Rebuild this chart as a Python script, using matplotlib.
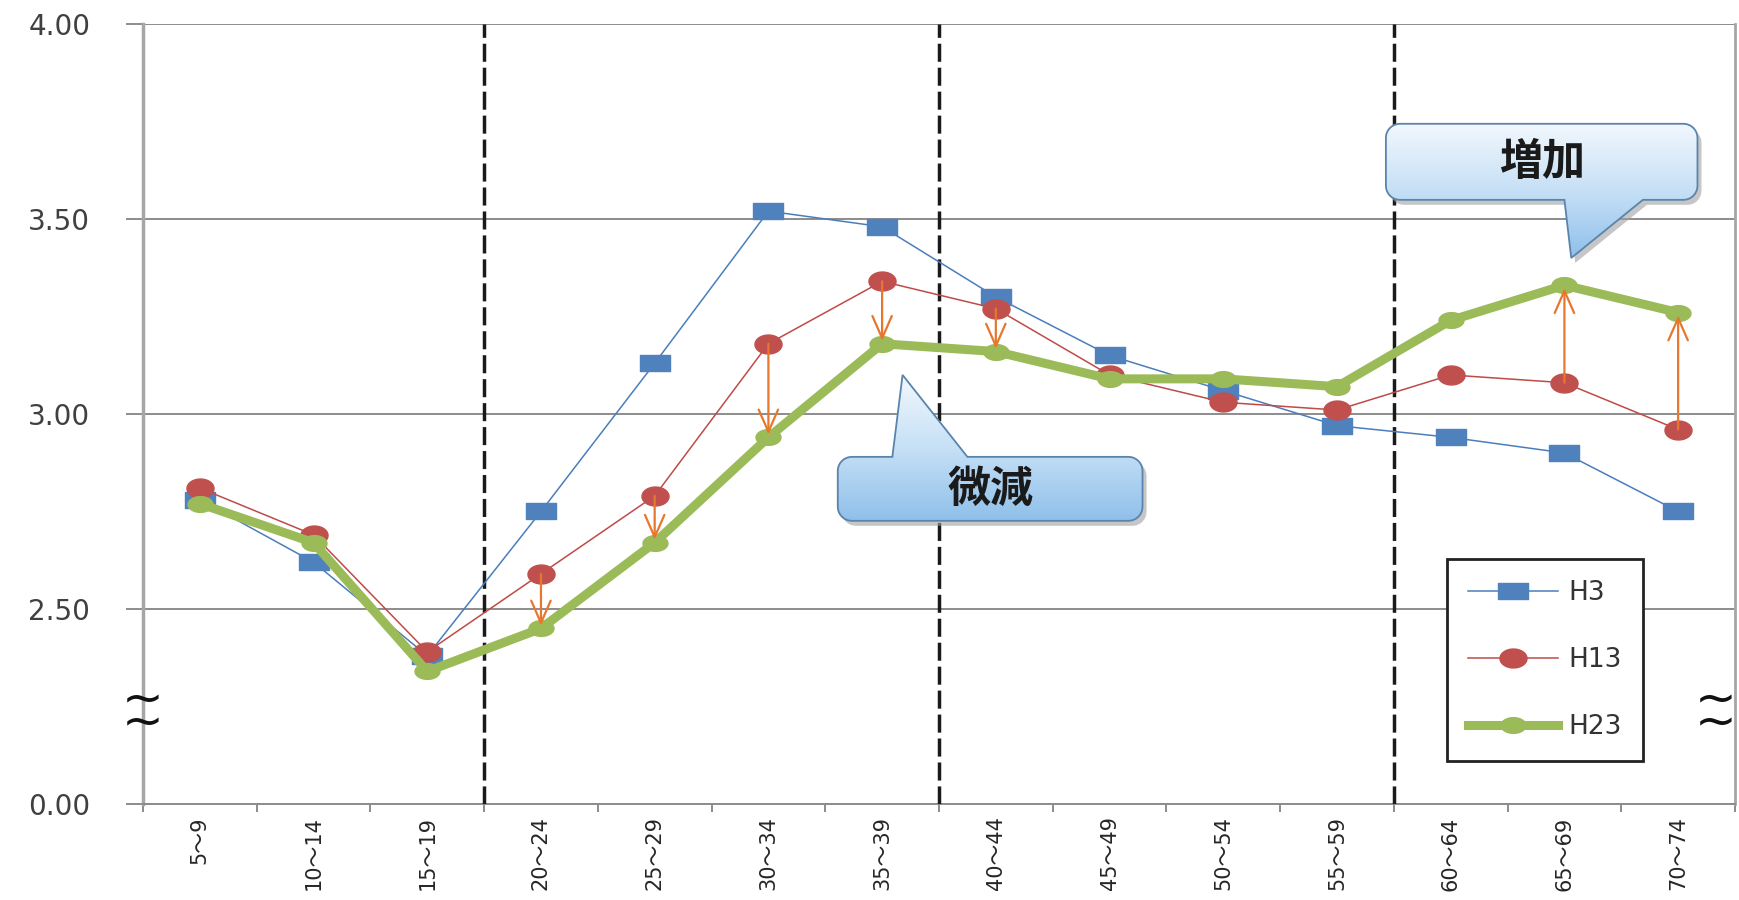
import numpy as np
import matplotlib
matplotlib.use('Agg')
import matplotlib.pyplot as plt
from matplotlib.path import Path
from matplotlib.patches import PathPatch
from matplotlib.colors import LinearSegmentedColormap

# age groups and average values (axis is broken: bottom tick "0.00" sits at 2.0)
ages = ['5～9', '10～14', '15～19', '20～24', '25～29', '30～34', '35～39',
        '40～44', '45～49', '50～54', '55～59', '60～64', '65～69', '70～74']
h3 = [2.78, 2.62, 2.38, 2.75, 3.13, 3.52, 3.48, 3.30, 3.15, 3.06, 2.97, 2.94, 2.90, 2.75]
h13 = [2.81, 2.69, 2.39, 2.59, 2.79, 3.18, 3.34, 3.27, 3.10, 3.03, 3.01, 3.10, 3.08, 2.96]
h23 = [2.77, 2.67, 2.34, 2.45, 2.67, 2.94, 3.18, 3.16, 3.09, 3.09, 3.07, 3.24, 3.33, 3.26]
series_names = ['H3', 'H13', 'H23']
ytick_vals = [2.0, 2.5, 3.0, 3.5, 4.0]
ytick_labels = ['0.00', '2.50', '3.00', '3.50', '4.00']
group_breaks = [2.5, 6.5, 10.5]
arrow_idx = [3, 4, 5, 6, 7, 12, 13]

JP = ['DejaVu Sans', 'Noto Sans CJK JP']

fig = plt.figure(figsize=(17.39, 9.0), dpi=100)
ax = fig.add_axes([0.0822, 0.1067, 0.9155, 0.8667])
x = np.arange(len(ages))
ax.set_xlim(-0.5, len(ages) - 0.5)
ax.set_ylim(2.0, 4.0)

# wide markers (the source picture is stretched sideways)
rect = Path([(-1, -0.55), (1, -0.55), (1, 0.55), (-1, 0.55), (-1, -0.55)], closed=True)
t = np.linspace(0, 2 * np.pi, 41)
ell_red = Path(np.column_stack([np.cos(t), 0.7 * np.sin(t)]), closed=True)
ell_grn = Path(np.column_stack([np.cos(t), 0.63 * np.sin(t)]), closed=True)

ax.plot(x, h3, color='#4a7ebb', lw=1.1, marker=rect, ms=22,
        mfc='#4f81bd', mec='#4f81bd', label=series_names[0], zorder=5)
ax.plot(x, h13, color='#be4b48', lw=1.1, marker=ell_red, ms=19.5,
        mfc='#c0504d', mec='#c0504d', label=series_names[1], zorder=6)
ax.plot(x, h23, color='#9bbb59', lw=6.5, marker=ell_grn, ms=18,
        mfc='#9bbb59', mec='#9bbb59', label=series_names[2], zorder=7)

for i in arrow_idx:
    ax.annotate('', xy=(x[i], h23[i]), xytext=(x[i], h13[i]),
                arrowprops=dict(arrowstyle='->,head_length=0.8,head_width=0.35',
                                color='#e8772e', lw=1.6, shrinkA=0, shrinkB=2,
                                mutation_scale=20), zorder=8)

for b in group_breaks:
    ax.axvline(b, color='#1a1a1a', lw=2.5, dashes=(5.2, 1.7), zorder=3)

# axes styling
ax.set_yticks(ytick_vals)
ax.set_yticklabels(ytick_labels, fontsize=20, color='#404040')
ax.yaxis.grid(True, color='#8c8c8c', lw=1.4)
ax.set_axisbelow(True)
ax.tick_params(axis='y', length=12, width=1.4, color='#8c8c8c', pad=26)
ax.set_xticks(x)
ax.set_xticklabels(ages, rotation=90, fontsize=15, color='#262626',
                   va='top', ha='center', family=JP)
ax.set_xticks(np.arange(-0.5, len(ages)), minor=True)
ax.tick_params(axis='x', which='major', length=0, pad=9)
ax.tick_params(axis='x', which='minor', length=6, width=1.4, color='#8c8c8c')
ax.spines['top'].set_visible(False)
ax.spines['left'].set_color('#a6a6a6')
ax.spines['left'].set_linewidth(2.5)
ax.spines['right'].set_color('#a6a6a6')
ax.spines['right'].set_linewidth(2.0)
ax.spines['bottom'].set_color('#8c8c8c')
ax.spines['bottom'].set_linewidth(1.4)

# axis break marks
for bx in [0.0, 0.988]:
    ax.text(bx, 0.118, '~\n~', transform=ax.transAxes, fontsize=36,
            ha='center', va='center', linespacing=0.33, color='#111111',
            clip_on=False, zorder=9)

leg = ax.legend(loc='upper left', bbox_to_anchor=(0.819, 0.314), borderaxespad=0,
                fontsize=19, handlelength=3.4, handletextpad=0.4,
                labelspacing=1.55, borderpad=0.8, fancybox=False,
                edgecolor='#222222', framealpha=1)
leg.get_frame().set_linewidth(2.0)
for txt in leg.get_texts():
    txt.set_color('#333333')


def callout(box, base, tip, side, label, r=14):
    T = ax.transData
    L, B = T.transform((box[0], box[2]))
    R, Tp = T.transform((box[1], box[3]))
    pa = T.transform((base[0], box[2]))[0]
    pb = T.transform((base[1], box[2]))[0]
    tx, ty = T.transform(tip)

    def arc(cx, cy, a0, a1):
        a = np.radians(np.linspace(a0, a1, 9))
        return list(zip(cx + r * np.cos(a), cy + r * np.sin(a)))

    v = [(L + r, Tp)]
    if side == 'top':
        v += [(pa, Tp), (tx, ty), (pb, Tp)]
    v += arc(R - r, Tp - r, 90, 0)
    v += arc(R - r, B + r, 0, -90)
    if side == 'bottom':
        v += [(pb, B), (tx, ty), (pa, B)]
    v += arc(L + r, B + r, 270, 180)
    v += arc(L + r, Tp - r, 180, 90)
    v = np.array(v)
    inv = T.inverted()
    shadow = PathPatch(Path(inv.transform(v + [4, -5]), closed=True),
                       facecolor='#a0a0a0', edgecolor='none', alpha=0.6, zorder=4.0)
    ax.add_patch(shadow)
    dv = inv.transform(v)
    edge = PathPatch(Path(dv, closed=True), facecolor='none',
                     edgecolor='#5a84ac', lw=1.3, zorder=4.3)
    ax.add_patch(edge)
    cmap = LinearSegmentedColormap.from_list('cb', ['#8fc0ea', '#c6e0f6', '#f2f8fd'])
    im = ax.imshow(np.linspace(0, 1, 256).reshape(-1, 1), cmap=cmap, origin='lower',
                   extent=(dv[:, 0].min(), dv[:, 0].max(), dv[:, 1].min(), dv[:, 1].max()),
                   aspect='auto', zorder=4.1)
    im.set_clip_path(edge)
    ax.text((box[0] + box[1]) / 2, (box[2] + box[3]) / 2, label,
            fontsize=31, fontweight='bold', family='Noto Sans CJK JP',
            color='#1a1a1a', ha='center', va='center', zorder=4.5)


callout((10.43, 13.17, 3.549, 3.744), (12.0, 12.69), (12.06, 3.40), 'bottom', '増加')
callout((5.61, 8.29, 2.726, 2.89), (6.09, 6.75), (6.18, 3.10), 'top', '微減')

ax.set_xlim(-0.5, len(ages) - 0.5)
ax.set_ylim(2.0, 4.0)

fig.savefig('out.png', dpi=100, facecolor='white')
